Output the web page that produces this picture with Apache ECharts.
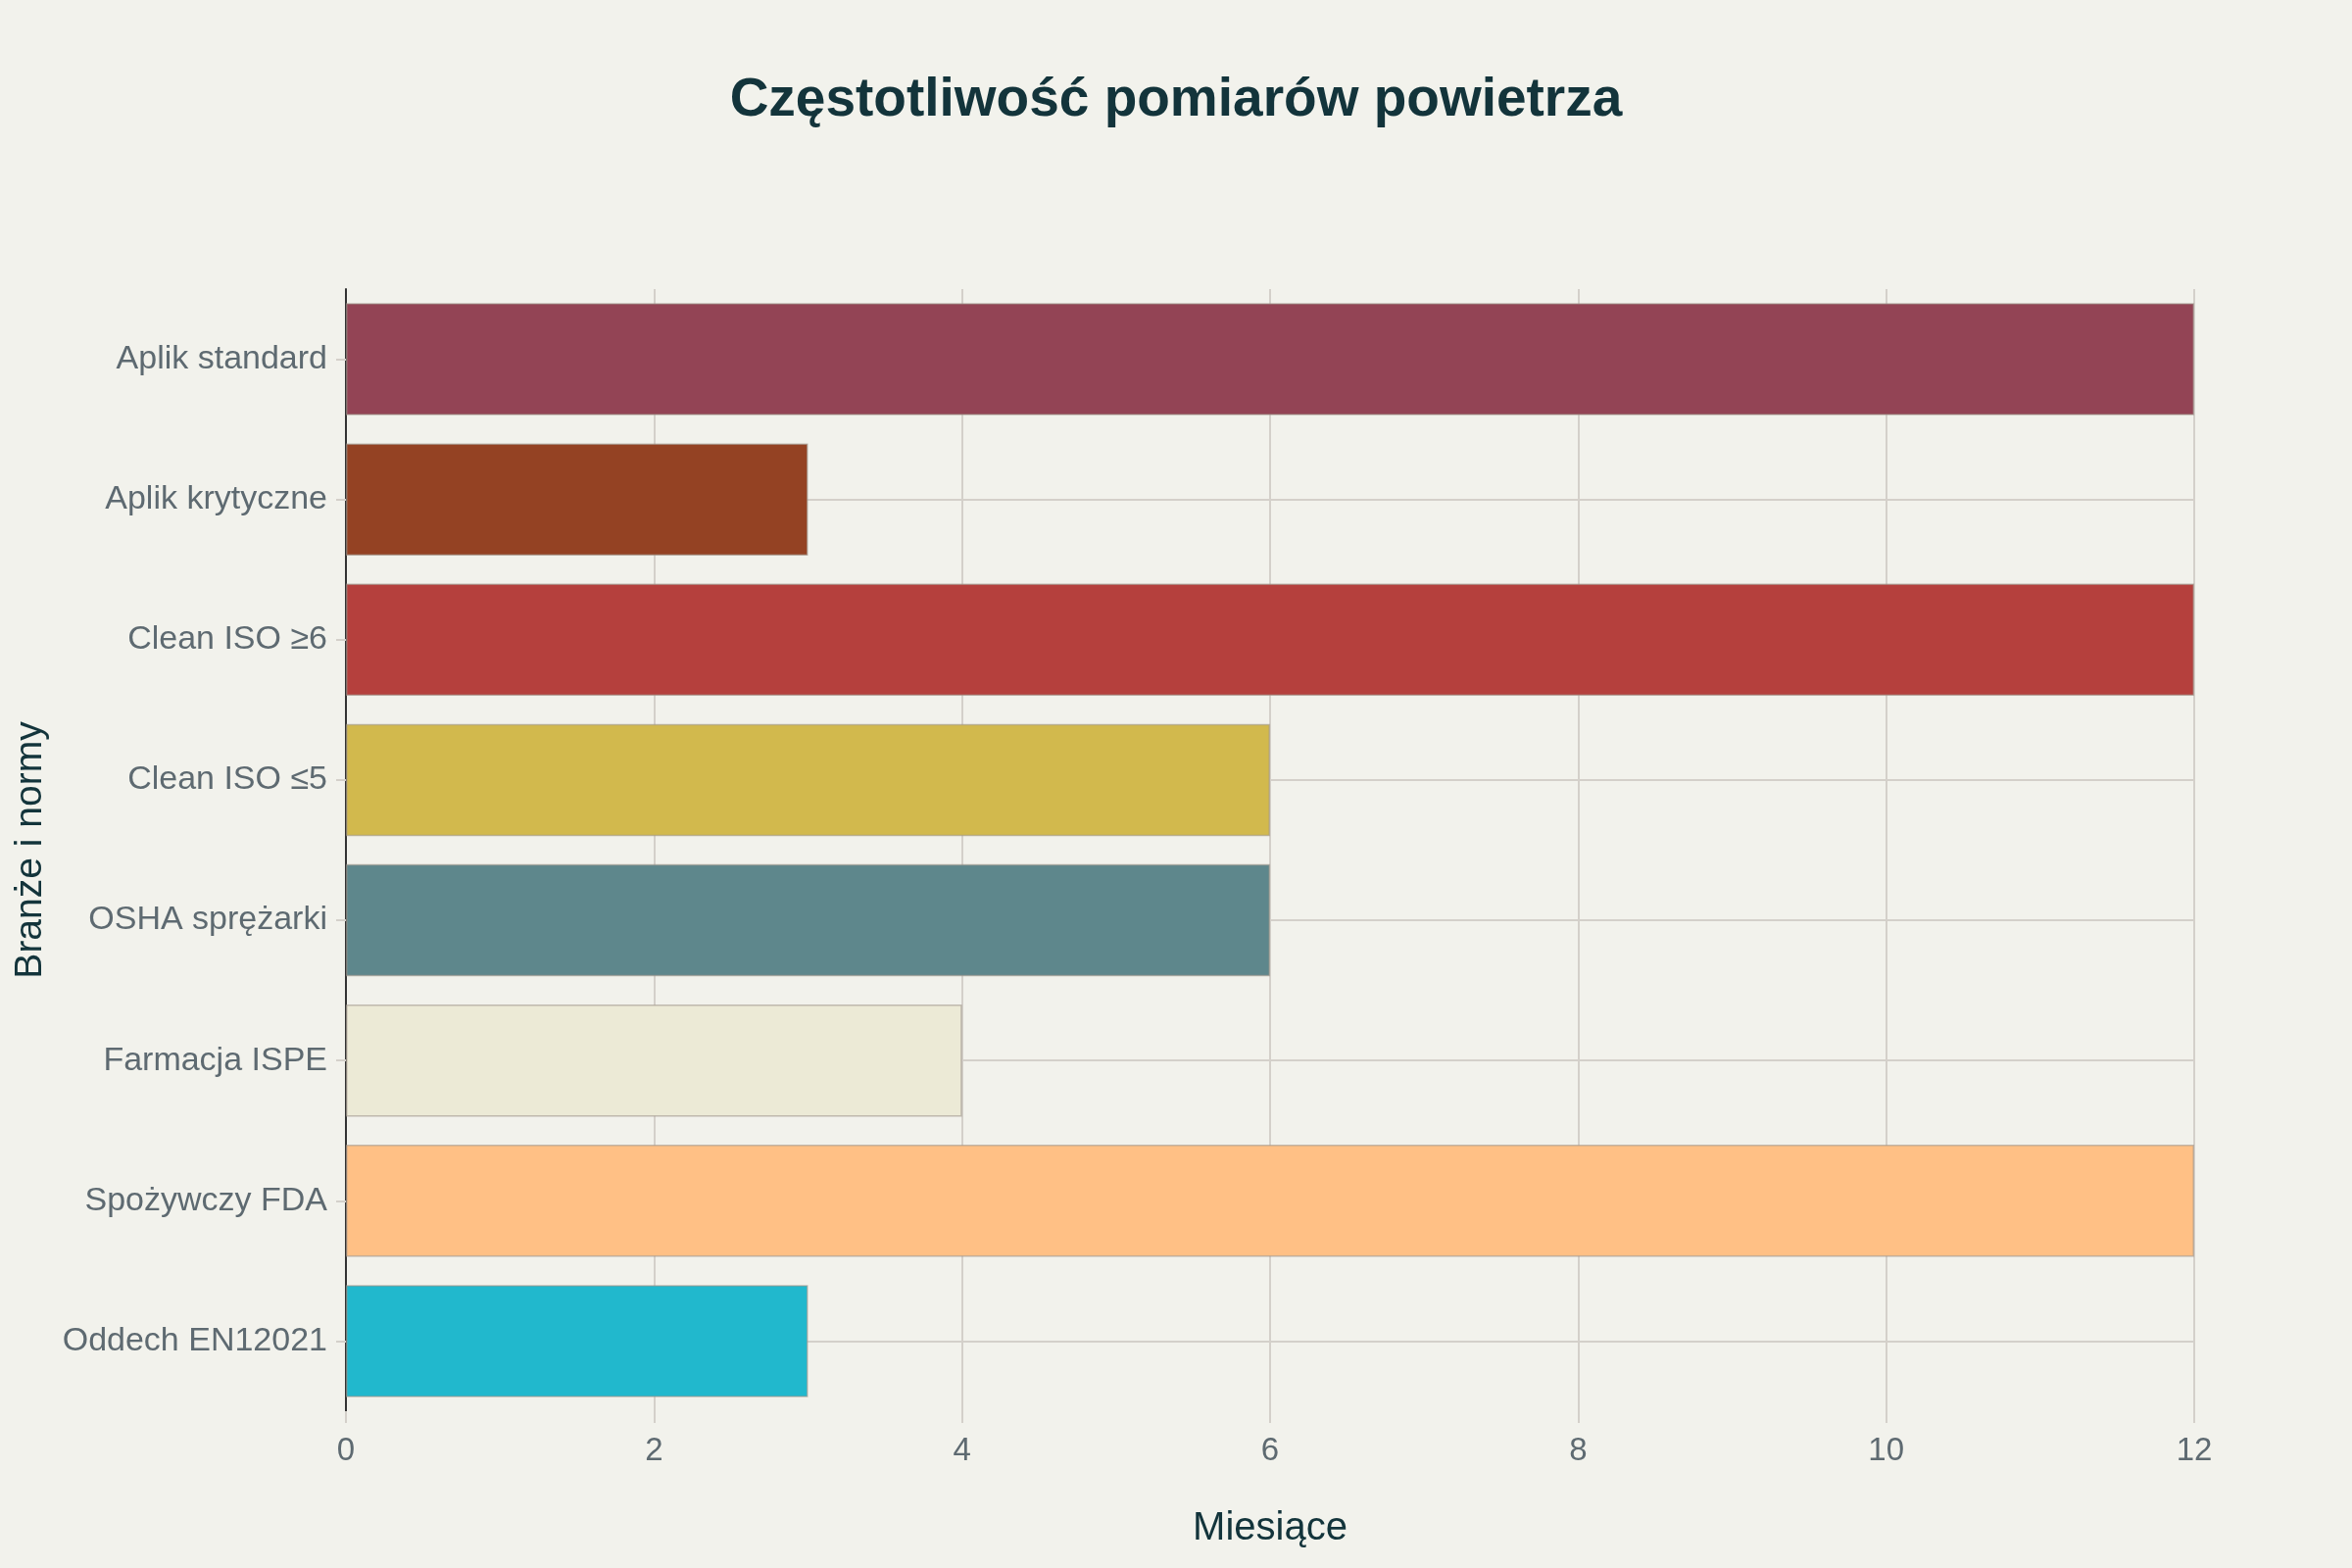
<!DOCTYPE html>
<html lang="pl">
<head>
<meta charset="utf-8">
<title>Częstotliwość pomiarów powietrza</title>
<script src="https://cdn.jsdelivr.net/npm/echarts@6/dist/echarts.min.js"></script>
<style>
  html, body { margin: 0; padding: 0; background: #f2f2ec; }
  #chart { width: 2400px; height: 1600px; }
</style>
</head>
<body>
<div id="chart"></div>
<script>
const categories = [
  'Aplik standard',
  'Aplik krytyczne',
  'Clean ISO ≥6',
  'Clean ISO ≤5',
  'OSHA sprężarki',
  'Farmacja ISPE',
  'Spożywczy FDA',
  'Oddech EN12021'
];
const months = [12, 3, 12, 6, 6, 4, 12, 3];
const barColors = ['#934455', '#944223', '#b5403d', '#d2b94d', '#5e878c', '#ecead6', '#ffc085', '#21b8cd'];
const xTicks = { min: 0, max: 12, interval: 2 };

(function () {
  const chart = echarts.init(document.getElementById('chart'));
  const font = "'Liberation Sans', Arial, sans-serif";
  const dark = '#13343b';
  const grey = '#5e6a71';
  const gridColor = '#d4d0ca';

  chart.setOption({
    backgroundColor: '#f2f2ec',
    textStyle: { fontFamily: font },
    title: {
      text: 'Częstotliwość pomiarów powietrza',
      left: 'center',
      top: 70,
      textStyle: { fontFamily: font, fontSize: 55, fontWeight: 'bold', color: dark }
    },
    grid: { left: 353, right: 161, top: 295, bottom: 160, containLabel: false },
    xAxis: {
      type: 'value',
      min: xTicks.min,
      max: xTicks.max,
      interval: xTicks.interval,
      name: 'Miesiące',
      nameLocation: 'middle',
      nameGap: 100,
      nameTextStyle: { fontFamily: font, fontSize: 40, color: dark },
      axisLine: { show: false },
      axisTick: { show: true, length: 12, lineStyle: { color: gridColor, width: 2 } },
      axisLabel: { fontFamily: font, fontSize: 33, color: grey, margin: 24 },
      splitLine: { show: true, lineStyle: { color: gridColor, width: 2 } }
    },
    yAxis: {
      type: 'category',
      data: categories,
      inverse: true,
      name: 'Branże i normy',
      nameLocation: 'middle',
      nameGap: 302,
      nameRotate: 90,
      nameTextStyle: { fontFamily: font, fontSize: 39, color: dark },
      axisLine: { show: true, lineStyle: { color: '#333', width: 2 } },
      axisTick: { show: true, alignWithLabel: true, length: 10, lineStyle: { color: gridColor, width: 2 } },
      axisLabel: { fontFamily: font, fontSize: 34, color: grey, margin: 19 },
      splitLine: { show: true, alignWithLabel: true, lineStyle: { color: gridColor, width: 2 } }
    },
    series: [{
      type: 'bar',
      barCategoryGap: '20%',
      data: months.map((v, i) => ({
        value: v,
        itemStyle: { color: barColors[i], borderColor: 'rgba(160,150,140,0.6)', borderWidth: 1.5 }
      })),
      z: 3
    }]
  });

  window.addEventListener('resize', () => chart.resize());
})();
</script>
</body>
</html>
